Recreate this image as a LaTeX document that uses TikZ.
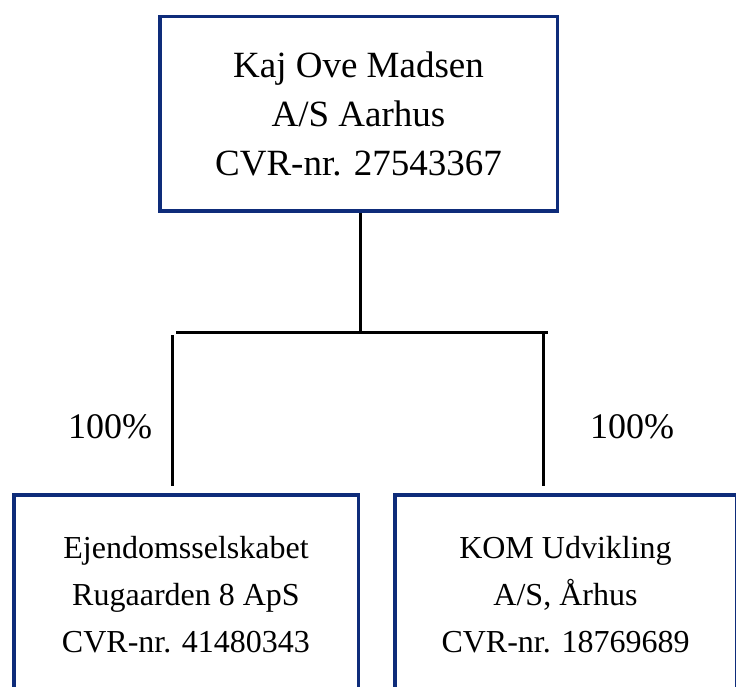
\documentclass[tikz,border=0pt]{standalone}
\usepackage{fontspec}
\setmainfont{Liberation Serif}
\usetikzlibrary{positioning}
\definecolor{boxblue}{RGB}{14,44,122}

\begin{document}
\begin{tikzpicture}[x=1pt, y=-1pt]
	\tikzstyle{company}=[draw=boxblue,line width=3.5pt,rectangle,align=center,inner sep=0pt]
	\tikzstyle{owner}=[draw=black,line width=3pt]
	\tikzstyle{share}=[font=\fontsize{36}{43}\selectfont,anchor=base]

	\useasboundingbox (0,0) rectangle (736,687);
	\clip (0,0) rectangle (736,687);

	\node [company,minimum width=397.5pt,minimum height=194.5pt,font=\fontsize{37}{49}\selectfont] (parent) at (358.5,114) {Kaj Ove Madsen\\A/S Aarhus\\CVR-nr. 27543367};

	\node [company,minimum width=344.5pt,minimum height=200pt,font=\fontsize{32}{47}\selectfont] (sub1) at (186,595) {Ejendomsselskabet\\Rugaarden 8 ApS\\CVR-nr. 41480343};
	\node [company,minimum width=341.5pt,minimum height=200pt,font=\fontsize{32}{47}\selectfont] (sub2) at (565.5,595) {KOM Udvikling\\A/S, Århus\\CVR-nr. 18769689};

	\coordinate (split) at (360,332);
	\coordinate (barl) at (176,332);
	\coordinate (barr) at (548,332);
	\coordinate (dropl) at (172,335);
	\coordinate (dropr) at (543,332);

	\draw [owner] (split |- parent.south) -- (split);
	\draw [owner] (barl) -- (barr);
	\draw [owner,shorten >=7pt] (dropl) -- (dropl |- sub1.north); % left
	\draw [owner,shorten >=7pt] (dropr) -- (dropr |- sub2.north); % right

	\node [share] (pct1) at (110,438) {100\%};
	\node [share] (pct2) at (632,438) {100\%};

\end{tikzpicture}
\end{document}
